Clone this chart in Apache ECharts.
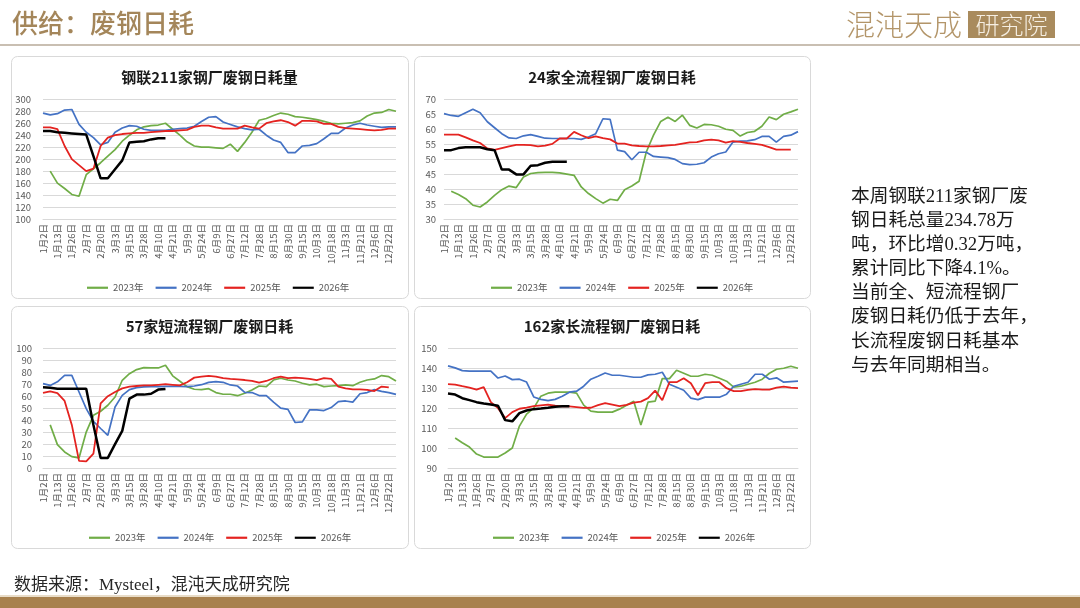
<!DOCTYPE html>
<html><head><meta charset="utf-8">
<script src="https://cdn.jsdelivr.net/npm/echarts@6/dist/echarts.min.js"></script>
<style>html,body{margin:0;padding:0;background:#fff;}#c{width:1080px;height:608px;}</style>
</head><body><div id="c"></div>
<script>
// ---------- data ----------
const categories = ['1月2日','1月7日','1月13日','1月20日','1月26日','2月1日','2月7日','2月14日','2月20日','2月26日','3月3日','3月9日','3月15日','3月21日','3月28日','4月3日','4月10日','4月15日','4月21日','4月30日','5月9日','5月16日','5月24日','6月1日','6月9日','6月18日','6月27日','7月5日','7月12日','7月20日','7月28日','8月7日','8月15日','8月23日','8月30日','9月7日','9月15日','9月24日','10月3日','10月11日','10月18日','10月26日','11月3日','11月12日','11月21日','11月29日','12月6日','12月14日','12月22日','12月29日'];
const years = ['2023年','2024年','2025年','2026年'];

// 钢联211家钢厂废钢日耗量
const c1_2023 = [null,180,160,151,141,138,174,184,194,205, 216,230,240,249,254,256,257,260,250,240, 229,222,220,220,219,218,225,213,228,245, 265,268,273,277,275,271,270,268,266,263, 260,259,260,261,264,272,277,278,283,280];
const c1_2024 = [277,274,276,282,283,258,245,236,224,228, 245,252,256,255,250,248,248,248,250,251, 252,255,263,270,271,262,258,254,251,249, 250,240,232,228,211,211,222,223,226,234, 243,243,252,257,260,257,255,253,254,254];
const c1_2025 = [253,253,250,222,200,190,180,184,222,236, 240,242,243,244,244,245,246,247,247,248, 249,254,256,256,253,251,251,251,256,253, 251,260,263,265,262,256,264,264,263,259, 259,254,252,251,250,249,248,249,251,251];
const c1_2026 = [247,247,245,244,243,242,241,205,168,168, 183,198,228,229,230,233,235,235];

// 24家全流程钢厂废钢日耗
const c2_2023 = [null,39.3,38.2,36.8,34.6,34.0,35.7,37.9,39.8,41.0, 40.5,44.0,45.2,45.5,45.6,45.6,45.4,45.0,44.6,40.7, 38.5,36.8,35.3,36.6,36.2,39.8,41.0,42.6,52.4,58.0, 62.6,64.0,62.6,64.7,61.3,60.4,61.6,61.5,61.0,60.0, 59.6,57.7,58.9,59.3,61.0,64.1,63.2,65.0,65.8,66.7];
const c2_2024 = [65.2,64.6,64.3,65.5,66.7,65.5,62.5,60.5,58.5,57.1, 56.9,57.8,58.2,57.6,57.0,56.9,56.9,56.9,56.9,56.6, 57.4,58.5,63.5,63.3,53.0,52.5,49.8,52.3,52.3,50.9, 50.7,50.5,49.9,48.5,48.2,48.3,48.8,50.7,51.8,52.4, 55.7,56.0,56.1,56.5,57.6,57.6,55.7,57.6,58.0,59.2];
const c2_2025 = [58.2,58.2,58.2,57.3,56.3,55.4,53.6,53.1,53.7,54.3, 54.8,54.8,54.7,54.3,54.5,55.1,56.9,56.9,59.1,58.0, 57.0,57.6,57.0,56.6,55.2,55.2,54.6,54.4,54.3,54.3, 54.4,54.6,54.8,55.2,55.6,55.7,56.3,56.5,56.3,55.5, 56.0,55.8,55.4,55.1,54.8,54.0,53.2,53.2,53.2,null];
const c2_2026 = [53.0,53.0,53.7,54.0,54.0,54.0,53.3,53.0,46.5,46.5, 44.9,44.9,47.8,48.0,48.8,49.1,49.1,49.1];

// 57家短流程钢厂废钢日耗
const c3_2023 = [null,36.0,19.5,13.4,9.5,8.4,30.0,44.0,47.4,52.4, 59.3,73.3,78.8,82.2,83.8,83.6,83.6,85.8,77.0,72.5, 68.0,65.8,65.5,66.3,63.0,61.6,61.6,60.4,62.4,65.2, 68.5,68.0,73.5,75.0,73.5,72.7,70.8,69.4,70.0,68.0, 68.5,68.8,69.4,68.8,71.6,73.5,74.4,77.2,76.3,72.7];
const c3_2024 = [70.5,69.0,72.0,77.4,77.4,63.5,49.6,39.0,33.0,27.3, 51.0,60.7,65.5,67.1,67.7,68.0,68.0,68.2,68.2,68.2, 68.0,68.5,69.6,71.5,72.1,71.6,69.4,68.5,63.2,63.0, 60.5,60.5,55.0,50.0,49.0,38.0,38.5,48.5,48.5,48.0, 50.5,55.5,56.0,55.0,62.0,63.0,65.5,64.0,63.0,61.5];
const c3_2025 = [62.7,64.0,62.5,56.0,36.0,6.0,5.5,12.0,54.0,60.0, 63.5,66.5,68.0,68.5,69.0,69.0,69.5,70.0,69.5,69.0, 71.6,75.5,76.3,76.9,76.3,75.0,74.4,74.0,73.5,72.7, 71.3,72.7,75.0,76.3,75.0,75.5,75.0,74.4,73.5,75.0, 74.4,68.0,66.6,65.7,65.7,65.2,64.3,68.0,67.4,null];
const c3_2026 = [67.4,67.0,66.3,66.3,66.3,66.3,66.3,36.0,8.4,8.4, 20.0,31.0,58.0,61.3,61.3,62.0,65.5,66.0];

// 162家长流程钢厂废钢日耗
const c4_2023 = [null,105.0,102.7,100.5,97.0,95.5,95.5,95.5,97.5,100.0, 111.0,117.0,120.0,126.0,127.5,128.0,128.0,128.0,127.5,121.5, 118.5,118.0,118.0,118.0,119.5,121.5,123.5,111.5,123.0,123.5, 134.8,134.8,139.0,137.5,136.0,136.0,137.0,136.5,135.0,133.5, 130.5,131.0,132.0,133.0,134.5,137.5,139.5,140.0,141.0,140.0];
const c4_2024 = [141.2,140.2,138.8,138.6,138.6,138.6,138.6,135.1,136.1,134.3, 134.5,133.1,125.6,124.4,123.8,124.4,126.0,128.0,128.5,131.0, 134.5,136.0,137.6,136.5,136.5,136.0,135.5,135.5,136.7,137.0, 138.0,132.0,130.5,129.0,125.0,124.3,125.5,125.5,125.5,127.0, 131.0,132.0,133.0,137.0,137.0,134.5,135.2,133.0,133.3,133.5];
const c4_2025 = [132.0,131.8,131.0,130.3,129.3,130.5,123.0,120.0,115.0,118.0, 119.7,120.3,121.0,121.4,121.8,121.2,120.9,120.9,120.5,120.1, 120.2,121.5,122.5,121.8,121.0,121.6,122.8,123.3,125.0,128.8, 124.0,133.0,133.0,135.0,132.5,126.5,132.5,133.0,133.0,130.0, 128.5,128.5,129.2,129.5,129.3,129.3,130.3,130.8,130.3,130.0];
const c4_2026 = [127.3,126.8,125.0,124.0,123.0,122.3,121.8,121.2,114.0,113.4, 117.5,118.8,119.5,119.8,120.2,120.7,120.9,120.9];

const chartTitles = ['钢联211家钢厂废钢日耗量','24家全流程钢厂废钢日耗','57家短流程钢厂废钢日耗','162家长流程钢厂废钢日耗'];
const yRanges = [[100,300,20],[30,70,5],[0,100,10],[90,150,10]];
const pageTitle = '供给：废钢日耗';
const sourceText = '数据来源：Mysteel，混沌天成研究院';
const noteLines = ['本周钢联211家钢厂废','钢日耗总量234.78万','吨，环比增0.32万吨，','累计同比下降4.1%。','当前全、短流程钢厂','废钢日耗仍低于去年，','长流程废钢日耗基本','与去年同期相当。'];

// ---------- layout ----------
const seriesData = [[c1_2023,c1_2024,c1_2025,c1_2026],[c2_2023,c2_2024,c2_2025,c2_2026],[c3_2023,c3_2024,c3_2025,c3_2026],[c4_2023,c4_2024,c4_2025,c4_2026]];
const layout = [
  {box:[11,56,397,242], grid:{left:43,top:99.3,width:353,height:119.7}, titleY:77, legendLeft:82, legendTop:278, ym:12},
  {box:[414,56,396,242], grid:{left:444,top:99.3,width:354,height:119.7}, titleY:77, legendLeft:486, legendTop:278, ym:8},
  {box:[11,306,397,242], grid:{left:43,top:348.3,width:353,height:119.7}, titleY:326, legendLeft:84, legendTop:528, ym:11},
  {box:[414,306,396,242], grid:{left:448,top:348.3,width:350,height:119.7}, titleY:326, legendLeft:488, legendTop:528, ym:11}
];
const colors = ['#70AD47','#4472C4','#E42320','#000000'];
const widths = [1.7,1.7,1.8,2.5];
const FONT = "'Noto Sans CJK SC', sans-serif";
const SERIF = "'Liberation Serif', 'Noto Sans CJK SC', serif";

const grids=[], xAxes=[], yAxes=[], series=[], legends=[], graphics=[];

// page decorations
graphics.push({type:'text', x:12, y:23, style:{text:pageTitle, fontSize:26, fontFamily:FONT, fontWeight:500, fill:'#a4865a', align:'left', verticalAlign:'middle'}});
graphics.push({type:'text', x:846, y:25, style:{text:'混沌天成', fontSize:29, fontFamily:FONT, fontWeight:300, fill:'#b39569', align:'left', verticalAlign:'middle'}});
graphics.push({type:'rect', shape:{x:968, y:11, width:87, height:27}, style:{fill:'#a98b5d'}});
graphics.push({type:'text', x:1011.5, y:25, style:{text:'研究院', fontSize:24, fontFamily:FONT, fontWeight:300, fill:'#f6efe3', align:'center', verticalAlign:'middle'}});
graphics.push({type:'rect', shape:{x:0, y:44, width:1080, height:2}, style:{fill:'#c9bfb2'}});
graphics.push({type:'text', x:14, y:586, style:{text:sourceText, fontSize:17, fontFamily:SERIF, fill:'#262626', align:'left', verticalAlign:'middle'}});
graphics.push({type:'rect', shape:{x:0, y:595, width:1080, height:2}, style:{fill:'#e8dcc8'}});
graphics.push({type:'rect', shape:{x:0, y:597, width:1080, height:11}, style:{fill:'#a8814e'}});
noteLines.forEach((t,i)=>{
  graphics.push({type:'text', x:851, y:197+i*24.1, style:{text:t, fontSize:18.7, fontFamily:SERIF, fill:'#1a1a1a', align:'left', verticalAlign:'middle'}});
});

layout.forEach((L,pi)=>{
  const [bx,by,bw,bh] = L.box;
  graphics.push({type:'rect', z:-10, shape:{x:bx+0.5, y:by+0.5, width:bw, height:bh, r:6}, style:{fill:'#fff', stroke:'#d9d9d9', lineWidth:1}});
  graphics.push({type:'text', x:bx+bw/2, y:L.titleY, style:{text:chartTitles[pi], fontSize:15, fontWeight:'bold', fontFamily:FONT, fill:'#1a1a1a', align:'center', verticalAlign:'middle'}});
  grids.push(Object.assign({containLabel:false}, L.grid));
  xAxes.push({type:'category', gridIndex:pi, data:categories, boundaryGap:false,
    axisLine:{lineStyle:{color:'#d9d9d9'}}, axisTick:{show:false},
    axisLabel:{rotate:90, interval:1, fontSize:9.5, color:'#595959', margin:5, fontFamily:FONT}, splitLine:{show:false}});
  const [mn,mx,iv] = yRanges[pi];
  yAxes.push({type:'value', gridIndex:pi, min:mn, max:mx, interval:iv,
    axisLine:{show:false}, axisTick:{show:false},
    axisLabel:{fontSize:9.5, color:'#595959', margin:L.ym, fontFamily:FONT},
    splitLine:{lineStyle:{color:'#d9d9d9', width:1}}});
  years.forEach((y,k)=>{
    series.push({type:'line', name:y, xAxisIndex:pi, yAxisIndex:pi, data:seriesData[pi][k],
      symbol:'none', showSymbol:false, smooth:false, connectNulls:false, z:2+k,
      lineStyle:{color:colors[k], width:widths[k]}, itemStyle:{color:colors[k]}, emphasis:{disabled:true}});
  });
  legends.push({data:years.map((y,k)=>({name:y, icon:'rect', itemStyle:{color:colors[k]}})),
    left:L.legendLeft, top:L.legendTop, itemWidth:21, itemHeight:k2h(), itemGap:12,
    selectedMode:false, textStyle:{fontSize:9.5, color:'#595959', fontFamily:FONT}});
});
function k2h(){ return 2.2; }

const chart = echarts.init(document.getElementById('c'), null, {renderer:'canvas'});
chart.setOption({
  animation:false, backgroundColor:'#ffffff',
  textStyle:{fontFamily:FONT},
  grid:grids, xAxis:xAxes, yAxis:yAxes, series:series, legend:legends, graphic:graphics
});
</script>
</body></html>
